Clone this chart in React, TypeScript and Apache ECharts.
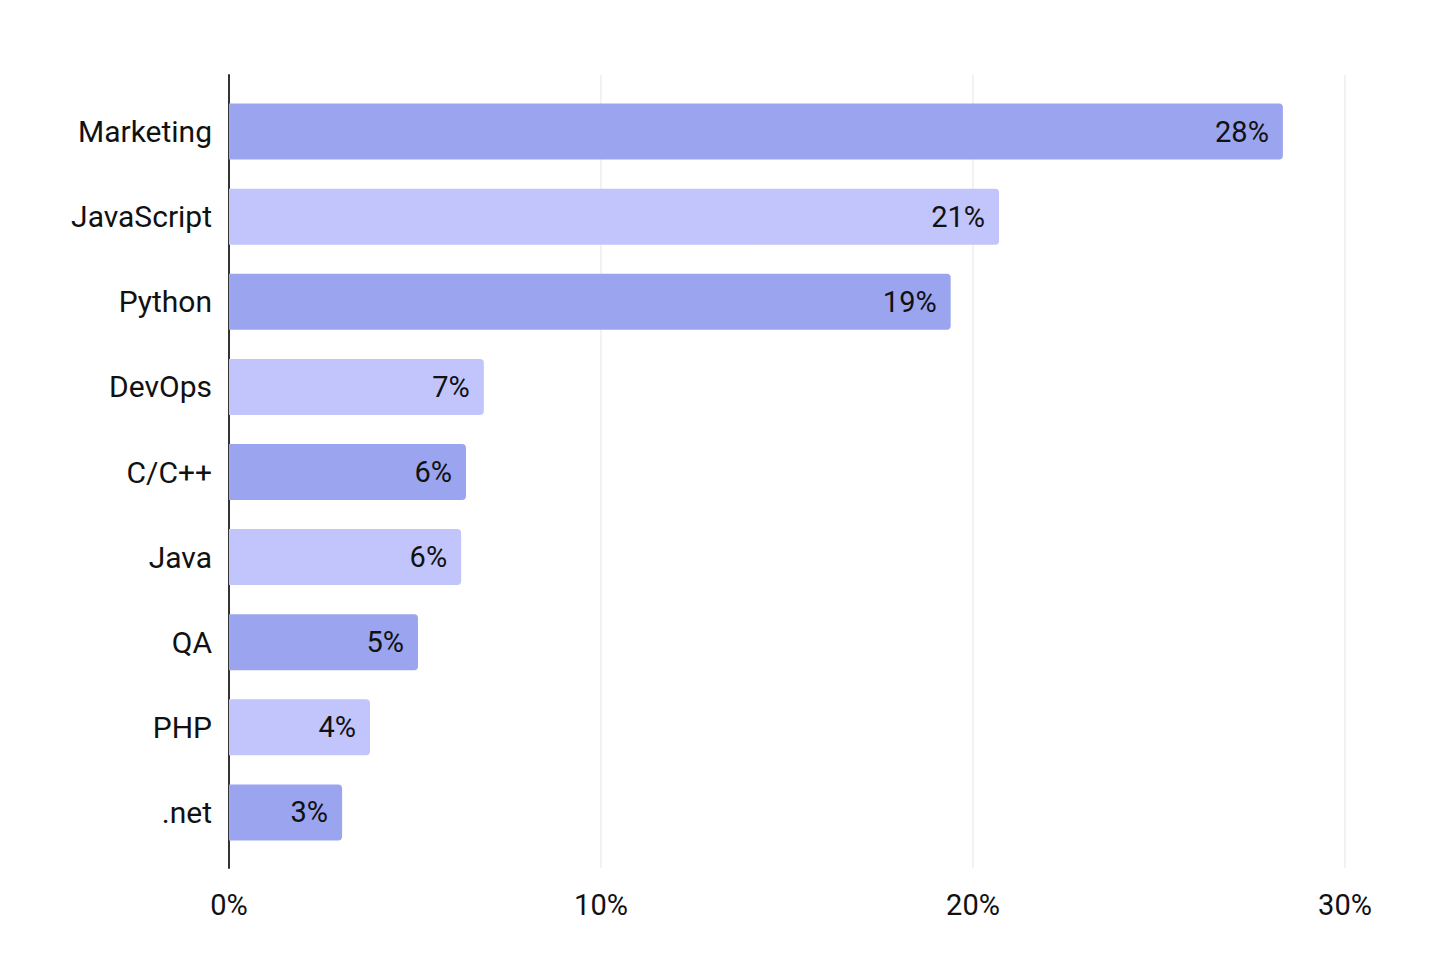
import React, { useEffect, useRef } from "react";
import * as echarts from "echarts";

const categories = ["Marketing", "JavaScript", "Python", "DevOps", "C/C++", "Java", "QA", "PHP", ".net"];
const values = [28.33, 20.7, 19.4, 6.85, 6.37, 6.24, 5.08, 3.79, 3.04];
const barColors = ["#9BA4EE", "#C1C5FC"];
const xTicks = [0, 10, 20, 30];

export default function App() {
  const ref = useRef<HTMLDivElement>(null);
  useEffect(() => {
    if (!ref.current) return;
    const chart = echarts.init(ref.current, undefined, { renderer: "svg" });
    const font = "Roboto, 'Noto Sans', sans-serif";
    chart.setOption({
      animation: false,
      backgroundColor: "#ffffff",
      grid: [
        { left: 229, right: 110, top: 75, bottom: 100 },
        { left: 229, right: 110, top: 89, bottom: 113 },
      ],
      xAxis: [
        {
          gridIndex: 0,
          type: "value",
          min: xTicks[0],
          max: xTicks[xTicks.length - 1],
          interval: 10,
          axisLine: { show: false },
          axisTick: { show: false },
          splitLine: { show: true, lineStyle: { color: "#EEEEEE", width: 1.5 } },
          axisLabel: {
            formatter: (v: number) => `${v}%`,
            color: "#111",
            fontSize: 29,
            fontFamily: font,
            margin: 22,
          },
        },
        {
          gridIndex: 1,
          type: "value",
          min: xTicks[0],
          max: xTicks[xTicks.length - 1],
          show: false,
        },
      ],
      yAxis: [
        {
          gridIndex: 0,
          type: "category",
          data: categories,
          inverse: true,
          axisLine: { show: true, lineStyle: { color: "#333", width: 2 } },
          axisTick: { show: false },
          axisLabel: { show: false },
          splitLine: { show: false },
        },
        {
          gridIndex: 1,
          type: "category",
          data: categories,
          inverse: true,
          axisLine: { show: false },
          axisTick: { show: false },
          splitLine: { show: false },
          axisLabel: {
            color: "#111",
            fontSize: 30,
            fontFamily: font,
            margin: 17,
          },
        },
      ],
      series: [
        {
          type: "bar",
          xAxisIndex: 1,
          yAxisIndex: 1,
          barWidth: 56,
          data: values.map((v, i) => ({
            value: v,
            itemStyle: { color: barColors[i % 2], borderRadius: [0, 4, 4, 0] },
          })),
          label: {
            show: true,
            position: "insideRight",
            distance: 14,
            color: "#111",
            fontSize: 29,
            fontFamily: font,
            formatter: (p: any) => `${Math.round(p.value)}%`,
          },
        },
      ],
    });
    return () => chart.dispose();
  }, []);
  return (
    <div
      ref={ref}
      style={{ position: "fixed", left: 0, top: 0, width: 1455, height: 968 }}
    />
  );
}
